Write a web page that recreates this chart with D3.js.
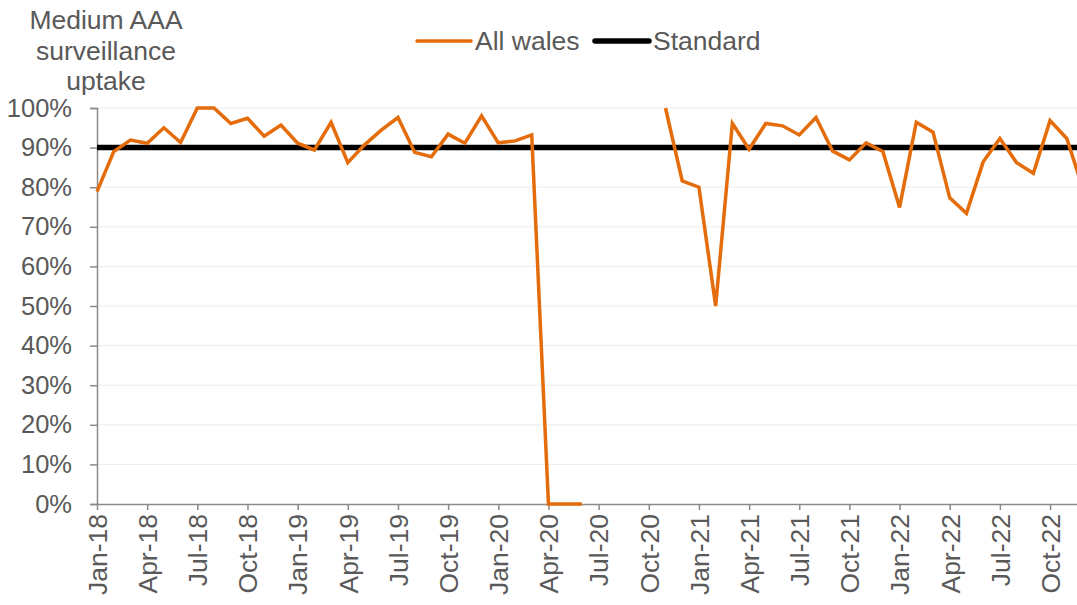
<!DOCTYPE html>
<html>
<head>
<meta charset="utf-8">
<script src="https://cdn.jsdelivr.net/npm/d3@7"></script>
<style>
  html, body { margin: 0; padding: 0; background: #fff; }
  svg { display: block; }
  text { font-family: "Liberation Sans", Arial, sans-serif; fill: #595959; }
</style>
</head>
<body>
<svg id="chart" width="1077" height="605"></svg>
<script>
// ---- data ----
const months = [
  "Jan-18","Feb-18","Mar-18","Apr-18","May-18","Jun-18","Jul-18","Aug-18","Sep-18","Oct-18","Nov-18","Dec-18",
  "Jan-19","Feb-19","Mar-19","Apr-19","May-19","Jun-19","Jul-19","Aug-19","Sep-19","Oct-19","Nov-19","Dec-19",
  "Jan-20","Feb-20","Mar-20","Apr-20","May-20","Jun-20","Jul-20","Aug-20","Sep-20","Oct-20","Nov-20","Dec-20",
  "Jan-21","Feb-21","Mar-21","Apr-21","May-21","Jun-21","Jul-21","Aug-21","Sep-21","Oct-21","Nov-21","Dec-21",
  "Jan-22","Feb-22","Mar-22","Apr-22","May-22","Jun-22","Jul-22","Aug-22","Sep-22","Oct-22","Nov-22","Dec-22"
];
const allWales = [
  0.789,0.890,0.919,0.911,0.950,0.913,1.000,1.000,0.961,0.974,0.929,0.957,
  0.911,0.894,0.964,0.862,0.907,0.944,0.976,0.888,0.877,0.934,0.911,0.980,
  0.912,0.917,0.932,0.000,0.000,0.000,null,null,null,null,1.000,0.816,
  0.800,0.500,0.961,0.896,0.961,0.955,0.932,0.976,0.891,0.869,0.912,0.890,
  0.749,0.964,0.939,0.773,0.734,0.864,0.923,0.862,0.835,0.968,0.923,0.792
];
const standard = months.map(() => 0.90);
const yTicks = [0,0.1,0.2,0.3,0.4,0.5,0.6,0.7,0.8,0.9,1.0];
const xTickLabels = months.filter((m, i) => i % 3 === 0);
const titleLines = ["Medium AAA", "surveillance", "uptake"];
const legendItems = [
  {name: "All wales", color: "#E46C0A", width: 3.5},
  {name: "Standard", color: "#000000", width: 5.5}
];

// ---- layout ----
const svg = d3.select("#chart");
const plotLeft = 97, plotRight = 1083.5, plotTop = 108, plotBottom = 504;
const x = d3.scalePoint().domain(months).range([plotLeft, plotRight]);
const y = d3.scaleLinear().domain([0, 1]).range([plotBottom, plotTop]);

// gridlines
svg.append("g").selectAll("line").data(yTicks.filter(d => d > 0)).join("line")
  .attr("x1", plotLeft).attr("x2", 1077)
  .attr("y1", d => y(d)).attr("y2", d => y(d))
  .attr("stroke", "#ececec").attr("stroke-width", 1);

// y axis
const yAxis = svg.append("g").attr("transform", `translate(${plotLeft},0)`)
  .call(d3.axisLeft(y).tickValues(yTicks).tickFormat(d3.format(".0%")).tickSize(7).tickPadding(18));
yAxis.select(".domain").attr("stroke", "#8a8a8a").attr("stroke-width", 1.5);
yAxis.selectAll(".tick line").attr("stroke", "#8a8a8a").attr("stroke-width", 1.5);
yAxis.selectAll("text").attr("font-size", 25.5).attr("fill", "#595959")
  .attr("font-family", '"Liberation Sans", Arial, sans-serif');

// x axis
const xAxis = svg.append("g").attr("transform", `translate(0,${plotBottom})`)
  .call(d3.axisBottom(x).tickValues(xTickLabels).tickSize(6).tickSizeOuter(0).tickPadding(4));
xAxis.select(".domain").attr("stroke", "#8a8a8a").attr("stroke-width", 1.5);
xAxis.selectAll(".tick line").attr("stroke", "#8a8a8a").attr("stroke-width", 1.5);
xAxis.selectAll("text")
  .attr("font-size", 26.5).attr("fill", "#595959")
  .attr("font-family", '"Liberation Sans", Arial, sans-serif')
  .attr("text-anchor", "end")
  .attr("transform", "rotate(-90)")
  .attr("x", -10).attr("y", 0).attr("dy", "0.35em");

// standard line
const line = d3.line().defined(d => d[1] !== null).x(d => x(d[0])).y(d => y(d[1]));
svg.append("path")
  .datum(months.map((m, i) => [m, standard[i]]))
  .attr("d", line).attr("fill", "none")
  .attr("stroke", "#000").attr("stroke-width", 5.5);

// all wales line
svg.append("path")
  .datum(months.map((m, i) => [m, allWales[i]]))
  .attr("d", line).attr("fill", "none")
  .attr("stroke", "#E46C0A").attr("stroke-width", 3.5)
  .attr("stroke-linejoin", "miter");

// y title
svg.append("g").selectAll("text").data(titleLines).join("text")
  .attr("x", 106).attr("y", (d, i) => 29 + i * 30.5)
  .attr("text-anchor", "middle").attr("font-size", 26.5)
  .text(d => d);

// legend
const lg = svg.append("g");
const legendX = [417, 595];
legendItems.forEach((it, i) => {
  lg.append("line").attr("x1", legendX[i]).attr("x2", legendX[i] + 54)
    .attr("y1", 41).attr("y2", 41)
    .attr("stroke", it.color).attr("stroke-width", it.width).attr("stroke-linecap", "round");
  lg.append("text").attr("x", legendX[i] + 58).attr("y", 50)
    .attr("font-size", 26.5).text(it.name);
});
</script>
</body>
</html>
